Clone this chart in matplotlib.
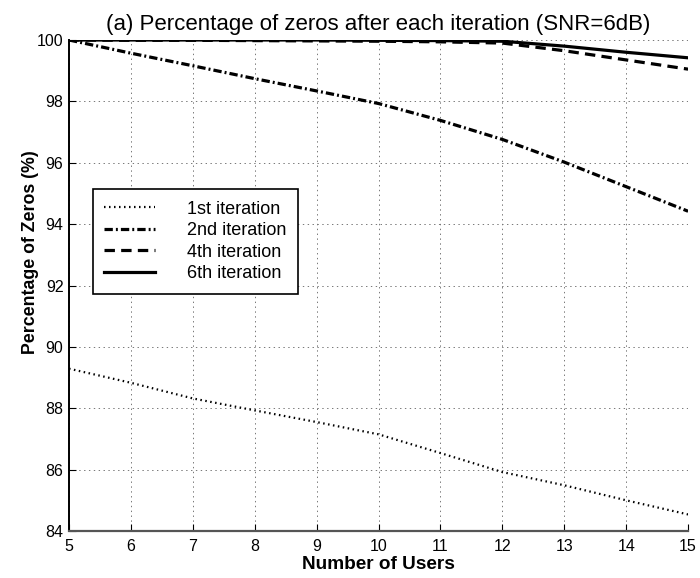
import matplotlib
matplotlib.use("Agg")
import matplotlib.pyplot as plt

plt.rcParams['font.family'] = ['Liberation Sans', 'DejaVu Sans']
plt.rcParams['lines.scale_dashes'] = False

users = [5, 6, 7, 8, 9, 10, 11, 12, 13, 14, 15]
iter1 = [89.29, 88.83, 88.32, 87.93, 87.55, 87.15, 86.54, 85.92, 85.49, 85.0, 84.54]
iter2 = [100.0, 99.57, 99.16, 98.74, 98.34, 97.93, 97.38, 96.76, 96.02, 95.22, 94.42]
iter4 = [100.0, 99.99, 99.99, 99.98, 99.97, 99.96, 99.94, 99.9, 99.65, 99.35, 99.05]
iter6 = [100.0, 100.0, 100.0, 100.0, 100.0, 99.99, 99.98, 99.96, 99.8, 99.6, 99.42]

fig = plt.figure(figsize=(7, 5.78), dpi=100)
ax = fig.add_axes([0.0986, 0.0813, 0.8844, 0.8495])

ax.plot(users, iter1, color='black', linestyle=(0, (1.1, 2.5)), linewidth=1.6, label='1st iteration')
ax.plot(users, iter2, color='black', linestyle=(0, (6, 2.2, 1.4, 2.2)), linewidth=2.3, label='2nd iteration')
ax.plot(users, iter4, color='black', linestyle=(0, (7.5, 4.5)), linewidth=2.3, label='4th iteration')
ax.plot(users, iter6, color='black', linestyle='-', linewidth=2.3, label='6th iteration')

ax.set_xlim(5, 15)
ax.set_ylim(84, 100)
ax.set_xticks(range(5, 16))
ax.set_yticks(range(84, 101, 2))
ax.tick_params(direction='in', labelsize=11.5, length=5)
ax.tick_params(axis='x', pad=6)
ax.tick_params(axis='y', pad=4)
ax.grid(True, linestyle=(0, (1, 2.5)), color='#777777', linewidth=0.7)

for side in ['top', 'right']:
    ax.spines[side].set_visible(False)
ax.spines['left'].set_linewidth(1.4)
ax.spines['bottom'].set_linewidth(1.6)
ax.spines['bottom'].set_color('#555555')

ax.set_xlabel('Number of Users', fontsize=13.7, fontweight='bold', labelpad=1)
ax.set_ylabel('Percentage of Zeros (%)', fontsize=12.8, fontweight='bold')
ax.yaxis.set_label_coords(-0.048, 0.568)
ax.set_title('(a) Percentage of zeros after each iteration (SNR=6dB)', fontsize=16, pad=7)

leg = ax.legend(loc='upper left', bbox_to_anchor=(0.038, 0.6965), borderaxespad=0,
                fontsize=13, fancybox=False, edgecolor='black', framealpha=1,
                handlelength=2.8, handletextpad=1.8, borderpad=0.65, labelspacing=0.25)
leg.get_frame().set_linewidth(1.2)

fig.savefig('out.png', dpi=100)
